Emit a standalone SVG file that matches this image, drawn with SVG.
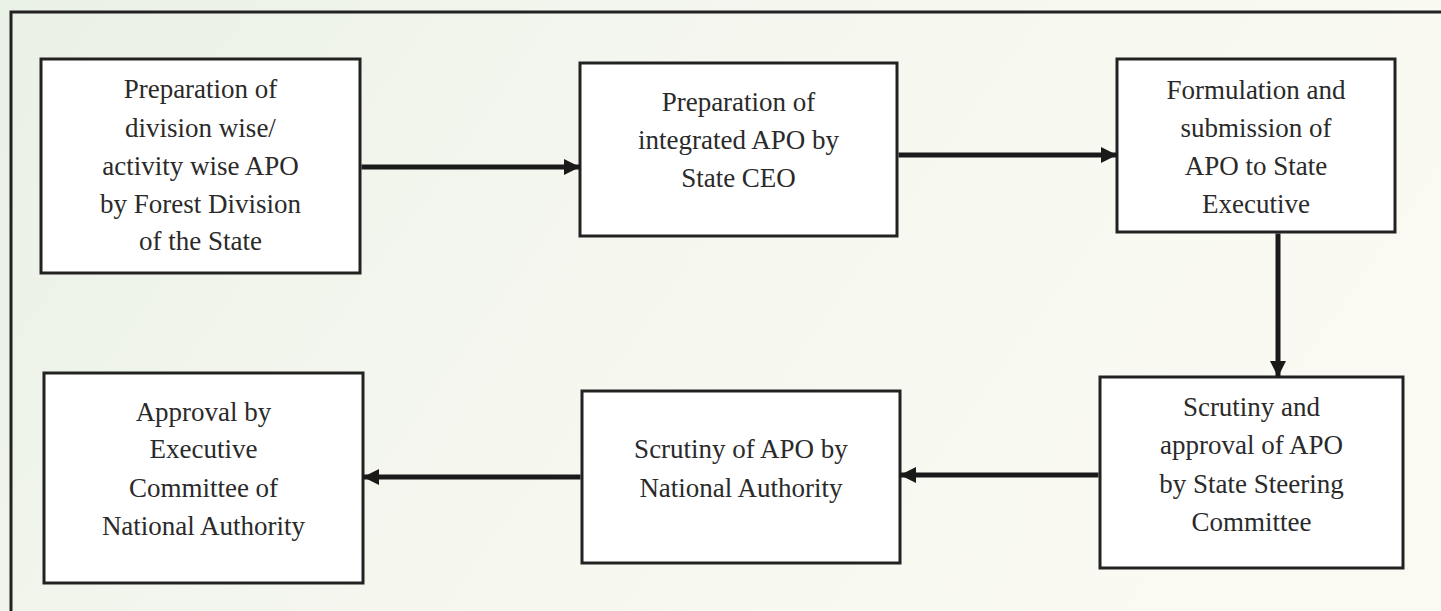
<svg xmlns="http://www.w3.org/2000/svg" width="1441" height="611" viewBox="0 0 1441 611">
<defs>
<linearGradient id="bg" x1="0" y1="0" x2="1" y2="0.3">
<stop offset="0" stop-color="#eaf1e6"/>
<stop offset="0.5" stop-color="#f5f7ef"/>
<stop offset="1" stop-color="#fafaf2"/>
</linearGradient>
<marker id="ah" viewBox="0 0 10 10" refX="10" refY="5" markerWidth="3.2" markerHeight="3.2" orient="auto" markerUnits="strokeWidth">
<path d="M0,0 L10,5 L0,10 Z" fill="#1a1a1a"/>
</marker>
<style>
.box{fill:#ffffff;stroke:#222;stroke-width:3}
.t{font-family:'Times New Roman','Liberation Serif',Tinos,'DejaVu Serif','Noto Serif',serif;font-size:27px;fill:#2a2a2a;text-anchor:middle}
.c{stroke:#1a1a1a;stroke-width:5;fill:none;marker-end:url(#ah)}
</style>
</defs>
<rect width="1441" height="611" fill="url(#bg)"/>
<path d="M11,611 L11,12 L1441,12" fill="none" stroke="#222" stroke-width="3"/>

<g id="n1">
<rect class="box" x="41" y="59" width="319" height="214"/>
<text class="t" x="200.5" y="98">Preparation of</text>
<text class="t" x="200.5" y="137">division wise/</text>
<text class="t" x="200.5" y="175">activity wise APO</text>
<text class="t" x="200.5" y="213">by Forest Division</text>
<text class="t" x="200.5" y="250">of the State</text>
</g>
<g id="n2">
<rect class="box" x="580" y="63" width="317" height="173"/>
<text class="t" x="738.5" y="111">Preparation of</text>
<text class="t" x="738.5" y="149">integrated APO by</text>
<text class="t" x="738.5" y="187">State CEO</text>
</g>
<g id="n3">
<rect class="box" x="1117" y="59" width="278" height="173"/>
<text class="t" x="1256" y="99">Formulation and</text>
<text class="t" x="1256" y="137">submission of</text>
<text class="t" x="1256" y="175">APO to State</text>
<text class="t" x="1256" y="213">Executive</text>
</g>
<g id="n4">
<rect class="box" x="1100" y="377" width="303" height="191"/>
<text class="t" x="1251.5" y="416">Scrutiny and</text>
<text class="t" x="1251.5" y="454">approval of APO</text>
<text class="t" x="1251.5" y="493">by State Steering</text>
<text class="t" x="1251.5" y="531">Committee</text>
</g>
<g id="n5">
<rect class="box" x="582" y="391" width="318" height="172"/>
<text class="t" x="741" y="458">Scrutiny of APO by</text>
<text class="t" x="741" y="497">National Authority</text>
</g>
<g id="n6">
<rect class="box" x="44" y="373" width="319" height="210"/>
<text class="t" x="203.5" y="421">Approval by</text>
<text class="t" x="203.5" y="458">Executive</text>
<text class="t" x="203.5" y="497">Committee of</text>
<text class="t" x="203.5" y="535">National Authority</text>
</g>

<g id="connectors">
<line class="c" x1="361.5" y1="167" x2="580" y2="167"/>
<line class="c" x1="898.5" y1="155" x2="1117" y2="155"/>
<line class="c" x1="1278" y1="233.5" x2="1278" y2="377"/>
<line class="c" x1="1098.5" y1="475" x2="900" y2="475"/>
<line class="c" x1="580.5" y1="477" x2="363" y2="477"/>
</g>
</svg>
